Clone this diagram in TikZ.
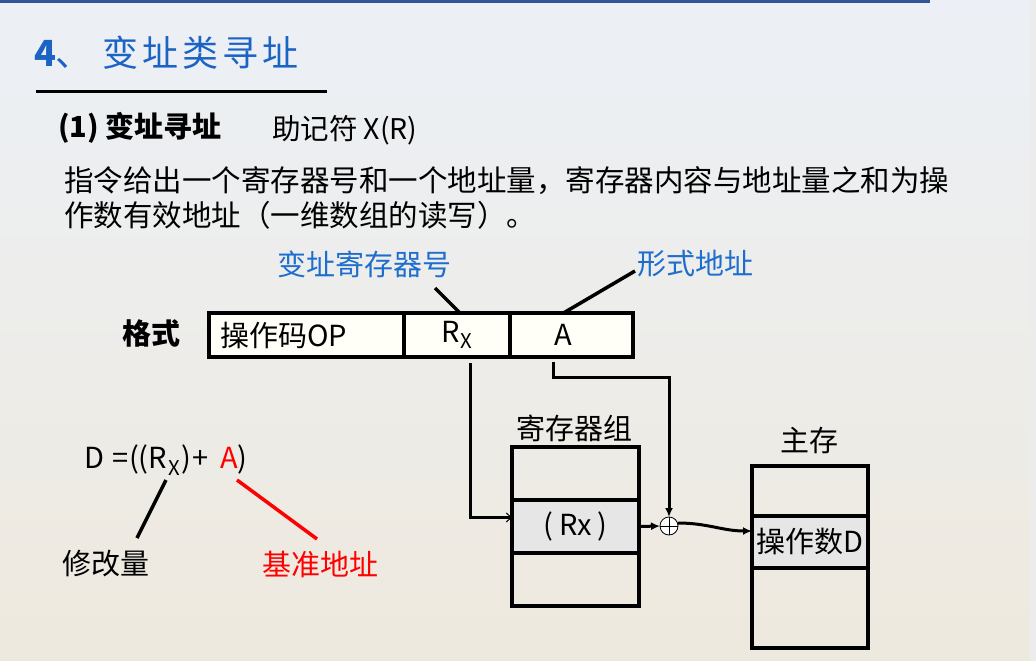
\documentclass[tikz,border=0pt]{standalone}
\usepackage{fontspec}
\setmainfont{Noto Sans CJK SC}
\usetikzlibrary{arrows.meta,positioning}
\definecolor{titleblue}{RGB}{28,100,196}
\definecolor{labelblue}{RGB}{30,110,205}
\definecolor{barblue}{RGB}{52,84,150}
\definecolor{cellgray}{RGB}{230,230,230}
\definecolor{boxfill}{RGB}{255,255,248}
\definecolor{sky}{RGB}{236,240,246}
\definecolor{haze}{RGB}{243,243,243}
\definecolor{ground}{RGB}{238,233,222}

\begin{document}
\begin{tikzpicture}[x=1pt, y=-1pt,
  every node/.style={inner sep=0pt, outer sep=0pt},
  big/.style={font=\fontsize{29.5}{34}\selectfont},
  mid/.style={font=\fontsize{29}{34}\selectfont},
  field/.style={draw, line width=3.5pt, fill=boxfill, minimum height=44pt, mid},
  cell/.style={draw, line width=3.5pt, mid},
  flow/.style={line width=3pt, -{Latex[length=9pt,width=8pt]}},
  leader/.style={line width=3.5pt}]

  % slide background
  \useasboundingbox (0,0) rectangle (1036,661);
  \shade[top color=sky, middle color=haze, bottom color=ground] (0,0) rectangle (1036,661);
  \fill[barblue] (0,0) rectangle (930,3);
  \fill[gray!15] (1030,0) rectangle (1036,661);

  % title
  \node[anchor=west, font=\fontsize{36}{40}\selectfont, text=titleblue] (title) at (34,53)
    {\textbf{4}、\kern11pt 变\kern4pt 址\kern4pt 类\kern4pt 寻\kern4pt 址};
  \draw[line width=3pt] (36,91) -- (327,91);

  \node[anchor=west, font=\fontsize{29}{34}\selectfont\bfseries] (head) at (58,128) {(1) 变址寻址};
  \node[anchor=west, font=\fontsize{28.5}{34}\selectfont] (mnem) at (272,130) {助记符 X(R)};
  \node[anchor=west, big] (line1) at (64,181) {指令给出一个寄存器号和一个地址量，寄存器内容与地址量之和为操};
  \node[anchor=west, big] (line2) at (64,215) {作数有效地址（一维数组的读写）。};

  % instruction format
  \node[font=\fontsize{29}{34}\selectfont\bfseries] (fmt) at (151,333) {格式};
  \node[field, text width=173pt, inner xsep=11pt, align=left, anchor=north west] (fop) at (209,313) {操作码OP};
  \node[field, minimum width=106pt, right=0pt of fop] (frx) {R\textsubscript{X}};
  \node[field, minimum width=123pt, right=0pt of frx] (fa) {\kern-16pt A};

  \node[mid, text=labelblue] (lblrx) at (364,264) {变址寄存器号};
  \node[mid, text=labelblue, anchor=west] (lbla) at (637,264) {形式地址};
  \coordinate (rxtip) at (435,288);
  \coordinate (atip) at (635,271);
  \draw[leader] (rxtip) -- ([xshift=3pt]frx.north);
  \draw[leader] (atip) -- ([xshift=-8pt]fa.north);

  % register group
  \node[mid] (rglabel) at (574,428) {寄存器组};
  \node[cell, minimum width=127pt, minimum height=53pt, anchor=north west] (rg1) at (512,447) {};
  \node[cell, minimum width=127pt, minimum height=53pt, fill=cellgray, below=0pt of rg1] (rg2) {(\kern6pt Rx\kern6pt)};
  \node[cell, minimum width=127pt, minimum height=53pt, below=0pt of rg2] (rg3) {};

  % main memory
  \node[mid] (mmlabel) at (809,440) {主存};
  \node[cell, minimum width=116pt, minimum height=50pt, anchor=north west] (mm1) at (752,466) {};
  \node[cell, minimum width=116pt, minimum height=52pt, fill=cellgray, below=0pt of mm1] (mm2) {操作数D};
  \node[cell, minimum width=116pt, minimum height=80pt, below=0pt of mm2] (mm3) {};

  % adder
  \node[draw, circle, minimum size=18pt, line width=0.8pt, fill=white] (sum) at (669,526) {};
  \draw[line width=0.8pt] (sum.north) -- (sum.south) (sum.west) -- (sum.east);

  \draw[line width=3pt, -{Straight Barb[length=5pt,width=9pt,line width=1pt]}]
    ([xshift=13pt,yshift=-6pt]frx.south) |- ([yshift=9pt]rg2.west);
  \draw[flow] ([xshift=-18pt,yshift=-5pt]fa.south) -- ++(0,15) -| (sum.north);
  \draw[flow] (rg2.east) -- (sum.west);
  \draw[flow] ([yshift=3pt]sum.east) to[out=0, in=180] ([yshift=11pt]mm2.west);

  % effective address
  \node[mid, anchor=west] (formula) at (84,460)
    {D\kern9pt=((R\kern1pt\textsubscript{X}\kern1pt)\kern2pt+\kern11pt\textcolor{red}{A})};
  \node[mid] (modlabel) at (106,564) {修改量};
  \node[mid, text=red] (baselabel) at (320,564) {基准地址};
  \coordinate (rxmark) at (166,480);
  \coordinate (modtip) at (137,538);
  \coordinate (amark) at (237,480);
  \coordinate (basetip) at (317,539);
  \draw[leader] (rxmark) -- (modtip);
  \draw[leader, red] (amark) -- (basetip);
\end{tikzpicture}
\end{document}
